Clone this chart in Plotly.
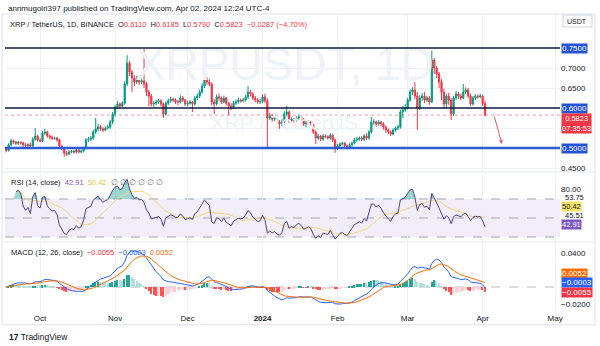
import numpy as np
import pandas as pd
import plotly.graph_objects as go

# ---------------- data ----------------
dates = pd.date_range("2023-09-17", "2024-04-02", freq="D")

opens = ([.497,.494,.508,.518,.515,.512,.514,.513,.508,.506,.508,.505,.522,.530]
 + [.520,.518,.537,.540,.530,.527,.524,.525,.520,.505,.498,.487,.485,.490,.492,.490,.495,.490,.492,.500,.520,.522,.525,.540,.548,.553,.548,.545,.550,.552,.565]
 + [.585,.602,.610,.605,.612,.660,.712,.690,.675,.665,.672,.665,.668,.660,.640,.630,.610,.612,.615,.618,.610,.585,.612,.618,.622,.620,.615,.615,.625,.620]
 + [.610,.612,.615,.610,.625,.630,.640,.655,.670,.665,.660,.615,.610,.628,.625,.615,.625,.612,.605,.600,.612,.615,.620,.618,.620,.628,.640,.635,.625,.620,.615]
 + [.616,.628,.618,.575,.580,.572,.575,.565,.560,.565,.585,.590,.568,.572,.568,.575,.578,.572,.560,.563,.565,.560,.540,.525,.530,.522,.530,.528,.525,.532,.520]
 + [.500,.505,.510,.512,.505,.502,.508,.512,.520,.522,.525,.522,.530,.525,.540,.565,.565,.560,.565,.560,.552,.545,.540,.535,.545,.550,.552,.590,.595]
 + [.600,.620,.640,.645,.630,.600,.625,.630,.620,.625,.615,.720,.700,.685,.665,.640,.610,.630,.620,.585,.625,.635,.630,.625,.640,.645,.630,.610,.625,.630,.628,.630,.611])

highs = ([.501,.512,.523,.521,.518,.518,.517,.516,.512,.512,.514,.527,.550,.533]
 + [.525,.542,.548,.543,.534,.531,.528,.528,.523,.508,.501,.492,.494,.495,.495,.500,.498,.496,.503,.525,.528,.530,.545,.575,.560,.558,.552,.554,.558,.570,.590]
 + [.608,.618,.614,.617,.668,.732,.718,.695,.682,.680,.676,.675,.748,.665,.645,.635,.618,.620,.623,.622,.614,.617,.623,.628,.626,.624,.620,.632,.630,.623]
 + [.618,.620,.618,.630,.636,.646,.662,.700,.678,.672,.664,.622,.634,.636,.629,.631,.628,.615,.612,.618,.621,.626,.624,.625,.633,.655,.646,.639,.630,.624,.622]
 + [.634,.636,.624,.588,.585,.580,.578,.570,.572,.592,.605,.594,.577,.575,.580,.584,.582,.575,.568,.569,.568,.563,.544,.535,.533,.535,.534,.532,.537,.536,.524]
 + [.510,.514,.516,.515,.509,.512,.516,.525,.528,.529,.530,.535,.537,.545,.578,.572,.569,.570,.568,.564,.556,.549,.544,.549,.554,.558,.596,.605,.610]
 + [.626,.646,.652,.665,.640,.632,.638,.640,.630,.630,.744,.725,.705,.690,.672,.648,.636,.638,.625,.630,.642,.640,.636,.660,.652,.650,.636,.630,.635,.634,.636,.633,.6185])

lows = ([.489,.491,.505,.510,.507,.508,.509,.503,.500,.502,.500,.502,.518,.516]
 + [.514,.515,.532,.526,.522,.520,.521,.516,.500,.494,.478,.480,.482,.487,.486,.487,.486,.487,.489,.497,.515,.518,.521,.535,.542,.543,.540,.542,.546,.548,.560]
 + [.578,.598,.598,.602,.608,.655,.680,.640,.655,.660,.658,.660,.650,.630,.605,.604,.603,.607,.610,.604,.575,.581,.607,.613,.615,.610,.606,.611,.615,.605]
 + [.604,.608,.590,.606,.620,.625,.636,.650,.658,.654,.606,.585,.606,.619,.610,.611,.607,.582,.595,.597,.608,.611,.613,.614,.616,.622,.629,.620,.614,.610,.610]
 + [.612,.612,.500,.570,.566,.567,.560,.548,.555,.558,.580,.562,.564,.563,.565,.570,.567,.555,.552,.559,.556,.535,.510,.520,.517,.518,.524,.521,.521,.515,.488]
 + [.495,.501,.506,.500,.497,.498,.503,.509,.516,.518,.518,.517,.519,.521,.536,.558,.553,.556,.555,.546,.538,.535,.530,.532,.541,.545,.548,.575,.590]
 + [.596,.615,.632,.622,.545,.595,.618,.612,.615,.608,.612,.685,.675,.650,.620,.600,.600,.608,.570,.580,.620,.622,.620,.622,.635,.625,.605,.606,.620,.623,.624,.605,.579])

closes = ([.494,.508,.518,.515,.512,.514,.513,.508,.506,.508,.505,.522,.530,.520]
 + [.518,.537,.540,.530,.527,.524,.525,.520,.505,.498,.487,.485,.490,.492,.490,.495,.490,.492,.500,.520,.522,.525,.540,.548,.553,.548,.545,.550,.552,.565,.585]
 + [.602,.610,.605,.612,.660,.712,.690,.675,.665,.672,.665,.668,.660,.640,.630,.610,.612,.615,.618,.610,.585,.612,.618,.622,.620,.615,.615,.625,.620,.610]
 + [.612,.615,.610,.625,.630,.640,.655,.670,.665,.660,.615,.610,.628,.625,.615,.625,.612,.605,.600,.612,.615,.620,.618,.620,.628,.640,.635,.625,.620,.615,.616]
 + [.628,.618,.575,.580,.572,.575,.565,.560,.565,.585,.590,.568,.572,.568,.575,.578,.572,.560,.563,.565,.560,.540,.525,.530,.522,.530,.528,.525,.532,.520,.500]
 + [.505,.510,.512,.505,.502,.508,.512,.520,.522,.525,.522,.530,.525,.540,.565,.565,.560,.565,.560,.552,.545,.540,.535,.545,.550,.552,.590,.595,.600]
 + [.620,.640,.645,.630,.600,.625,.630,.620,.625,.615,.720,.700,.685,.665,.640,.610,.630,.620,.585,.625,.635,.630,.625,.640,.645,.630,.610,.625,.630,.628,.630,.611,.5823])

levels_dark = [0.75, 0.60]
level_blue = 0.50
last_price = 0.5823
month_ticks = ["2023-10-01", "2023-11-01", "2023-12-01", "2024-01-01", "2024-02-01", "2024-03-01", "2024-04-01", "2024-05-01"]
month_labels = ["Oct", "Nov", "Dec", "<b>2024</b>", "Feb", "Mar", "Apr", "May"]
price_ticks = [0.45, 0.55, 0.65, 0.70]

# ---------------- indicators ----------------
c = pd.Series(closes, dtype=float)
delta = c.diff()
gain = delta.clip(lower=0)
loss = -delta.clip(upper=0)
ag = gain.ewm(alpha=1/14, adjust=True, min_periods=4).mean()
al = loss.ewm(alpha=1/14, adjust=True, min_periods=4).mean()
rsi = 100 - 100 / (1 + ag / al)
rsi_ma = rsi.rolling(14, min_periods=1).mean()
ema12 = c.ewm(span=12, adjust=False).mean()
ema26 = c.ewm(span=26, adjust=False).mean()
macd = ema12 - ema26
signal = macd.ewm(span=9, adjust=False).mean()
hist = macd - signal
hcol = []
for i, h in enumerate(hist):
    p = hist.iloc[i-1] if i > 0 else h
    if h >= 0:
        hcol.append('#26A69A' if h >= p else '#B2DFDB')
    else:
        hcol.append('#FF5252' if h < p else '#FFCDD2')

# ---------------- figure ----------------
fig = go.Figure()
wm_x = pd.Timestamp("2024-01-10")
fig.add_trace(go.Scatter(x=[wm_x, wm_x], y=[0.700, 0.5575], mode="text",
                         text=["XRPUSDT, 1D", "XRP / TetherUS"],
                         textfont=dict(size=[46, 21], color="#eff2f8", family="Liberation Sans"),
                         xaxis="x", yaxis="y", hoverinfo="skip"))
fig.add_trace(go.Candlestick(x=dates, open=opens, high=highs, low=lows, close=closes,
                             increasing=dict(line=dict(color="#089981", width=1), fillcolor="#089981"),
                             decreasing=dict(line=dict(color="#F23645", width=1), fillcolor="#F23645"),
                             whiskerwidth=0, xaxis="x", yaxis="y"))

# RSI
fig.add_trace(go.Scatter(x=dates, y=[70]*len(dates), mode="lines", line=dict(width=0),
                         xaxis="x2", yaxis="y2", hoverinfo="skip"))
fig.add_trace(go.Scatter(x=dates, y=np.maximum(rsi.fillna(0), 70), mode="lines", line=dict(width=0),
                         fill="tonexty", fillcolor="rgba(38,166,154,0.45)",
                         xaxis="x2", yaxis="y2", hoverinfo="skip"))
fig.add_trace(go.Scatter(x=dates, y=rsi_ma, mode="lines", line=dict(color="#F5D67A", width=1),
                         xaxis="x2", yaxis="y2"))
fig.add_trace(go.Scatter(x=dates, y=rsi, mode="lines", line=dict(color="#4F427F", width=1),
                         xaxis="x2", yaxis="y2"))

# MACD
fig.add_trace(go.Bar(x=dates, y=hist, marker=dict(color=hcol, line=dict(width=0)),
                     width=86400000*0.6, xaxis="x3", yaxis="y3"))
fig.add_trace(go.Scatter(x=dates, y=macd, mode="lines", line=dict(color="#2962FF", width=1),
                         xaxis="x3", yaxis="y3"))
fig.add_trace(go.Scatter(x=dates, y=signal, mode="lines", line=dict(color="#FF6D00", width=1),
                         xaxis="x3", yaxis="y3"))

xr = ["2023-09-16 12:00", "2024-05-03 00:00"]
gridc = "#eef1f6"
xcommon = dict(range=xr, tickvals=month_ticks, showgrid=True, gridcolor=gridc, gridwidth=1,
               zeroline=False, showline=False, ticks="")
FONT = "Liberation Sans, Arial, sans-serif"
fig.update_layout(
    width=600, height=346, margin=dict(l=5, r=40, t=14, b=34),
    paper_bgcolor="white", plot_bgcolor="white", showlegend=False, hovermode=False,
    font=dict(family=FONT, size=8, color="#131722"), bargap=0,
    xaxis=dict(domain=[0, 1], anchor="y", showticklabels=False, rangeslider=dict(visible=False), **xcommon),
    xaxis2=dict(domain=[0, 1], anchor="y2", matches="x", showticklabels=False, **xcommon),
    xaxis3=dict(domain=[0, 1], anchor="y3", matches="x", showticklabels=True, ticktext=month_labels,
                tickfont=dict(size=8, color="#131722"), **xcommon),
    yaxis=dict(domain=[0.4698, 1], side="right", range=[0.44, 0.835], tickvals=price_ticks,
               ticktext=[f"{v:.4f}" for v in price_ticks], showgrid=True, gridcolor=gridc,
               zeroline=False, ticks="", tickfont=dict(size=8, color="#131722")),
    yaxis2=dict(domain=[0.2383, 0.4631], side="right", range=[25.8, 96.3], tickvals=[80],
                ticktext=["80.00"], showgrid=False, zeroline=False, ticks="",
                tickfont=dict(size=8, color="#131722")),
    yaxis3=dict(domain=[0, 0.2315], side="right", range=[-0.0294, 0.0518], tickvals=[0.04, -0.02],
                ticktext=["0.0400", "\u22120.0200"], showgrid=False, zeroline=False, ticks="",
                tickfont=dict(size=8, color="#131722")),
)

shapes = []
# frame and pane separators
shapes.append(dict(type="rect", xref="paper", yref="paper", x0=-0.0054, x1=1.063, y0=-0.043, y1=1.0,
                   line=dict(color="#dfe2ea", width=1), fillcolor="rgba(0,0,0,0)", layer="below"))
for py in [0.4698, 0.2349]:
    shapes.append(dict(type="line", xref="paper", yref="paper", x0=-0.0054, x1=1.063, y0=py, y1=py,
                       line=dict(color="#e6e9f0", width=1), layer="below"))
# RSI band + levels
shapes.append(dict(type="rect", xref="paper", yref="y2", x0=0, x1=1, y0=30, y1=70,
                   fillcolor="rgba(126,87,194,0.10)", line=dict(width=0), layer="below"))
for lv in [70, 50, 30]:
    shapes.append(dict(type="line", xref="paper", yref="y2", x0=0, x1=1, y0=lv, y1=lv,
                       line=dict(color="#a3a6af", width=1, dash="dash"), layer="below"))
# MACD zero
shapes.append(dict(type="line", xref="paper", yref="y3", x0=0, x1=1, y0=0, y1=0,
                   line=dict(color="#b8bbc3", width=1, dash="dash"), layer="below"))
# price lines
shapes.append(dict(type="line", xref="paper", yref="y", x0=0, x1=1, y0=last_price, y1=last_price,
                   line=dict(color="#f39aa2", width=1, dash="dot"), layer="below"))
for lv in levels_dark:
    shapes.append(dict(type="line", xref="paper", yref="y", x0=0, x1=1, y0=lv, y1=lv,
                       line=dict(color="#0f1b3d", width=1.5)))
shapes.append(dict(type="line", xref="paper", yref="y", x0=0, x1=1, y0=level_blue, y1=level_blue,
                   line=dict(color="#2d5bd6", width=2.5)))
# USDT button
shapes.append(dict(type="rect", xref="paper", yref="paper", x0=1.0054, x1=1.0577, y0=0.9564, y1=0.9966,
                   line=dict(color="#d1d4dc", width=1), fillcolor="white"))
fig.update_layout(shapes=shapes)

ann = []
def box(text, yref, y, bg, fc="white", yanchor="middle", yshift=0, size=8):
    ann.append(dict(text=text, xref="paper", x=1.0, xanchor="left", xshift=1, yref=yref, y=y,
                    yanchor=yanchor, yshift=yshift, showarrow=False, bgcolor=bg, borderpad=0,
                    font=dict(size=size, color=fc, family=FONT), align="center"))

for lv in levels_dark + [level_blue]:
    box(f"{lv:.4f}", "y", lv, "#2454d6")
box(f"{last_price:.4f}<br>07:35:53", "y", last_price, "#F23645", yanchor="top", yshift=2, size=7.5)
# RSI labels
ann.append(dict(text="53.75", xref="paper", x=1.0, xanchor="left", xshift=3, yref="y2", y=71.5,
                showarrow=False, font=dict(size=7.5, color="#131722")))
ann.append(dict(text="45.51", xref="paper", x=1.0, xanchor="left", xshift=3, yref="y2", y=52.6,
                showarrow=False, font=dict(size=7.5, color="#131722")))
box("50.42", "y2", 62.3, "#F7E26B", fc="#131722", size=7.5)
box("42.91", "y2", 43.4, "#7E57C2", size=7.5)
# MACD labels
box("0.0052", "y3", 0.0165, "#FF6D00")
box("\u22120.0003", "y3", 0.0059, "#2962FF")
box("\u22120.0055", "y3", -0.0059, "#F23645")

# headers
ann.append(dict(text="annmugolri397 published on TradingView.com, Apr 02, 2024 12:24 UTC-4",
                xref="paper", yref="paper", x=0.002, y=1.0201, xanchor="left", yanchor="middle",
                showarrow=False, font=dict(size=8, color="#131722")))
red = "#F23645"
ann.append(dict(text=("XRP / TetherUS, 1D, BINANCE  O<span style='color:%s'>0.6110</span>  "
                      "H<span style='color:%s'>0.6185</span>  L<span style='color:%s'>0.5790</span>  "
                      "C<span style='color:%s'>0.5823</span>  <span style='color:%s'>\u22120.0287 (\u22124.70%%)</span>")
                     % (red, red, red, red, red),
                xref="paper", yref="paper", x=0.0054, y=0.9664, xanchor="left", yanchor="middle",
                showarrow=False, font=dict(size=7.5, color="#131722")))
ann.append(dict(text="USDT", xref="paper", yref="paper", x=1.0315, y=0.9765, xanchor="center", yanchor="middle",
                showarrow=False, font=dict(size=7, color="#131722")))
ann.append(dict(text=("RSI (14, close)  <span style='color:#7E57C2'>42.91</span>  "
                      "<span style='color:#E8C547'>50.42</span>  "
                      "<span style='color:#787b86'>\u2205 \u2205 \u2205 \u2205 \u2205 \u2205</span>"),
                xref="paper", yref="paper", x=0.0072, y=0.4329, xanchor="left", yanchor="middle",
                showarrow=False, font=dict(size=7.5, color="#131722")))
ann.append(dict(text=("MACD (12, 26, close)  <span style='color:#F23645'>\u22120.0055</span>  "
                      "<span style='color:#2962FF'>\u22120.0003</span>  "
                      "<span style='color:#FF6D00'>0.0052</span>"),
                xref="paper", yref="paper", x=0.0072, y=0.2013, xanchor="left", yanchor="middle",
                showarrow=False, font=dict(size=7.5, color="#131722")))
ann.append(dict(text="<b>17</b> TradingView", xref="paper", yref="paper", x=0.0036, y=-0.0839,
                xanchor="left", yanchor="middle", showarrow=False, font=dict(size=8.5, color="#131722")))
# projection arrow
ann.append(dict(x="2024-04-09", y=0.51, xref="x", yref="y", ax=-8, ay=-29, axref="pixel", ayref="pixel",
                showarrow=True, arrowhead=2, arrowsize=0.8, arrowwidth=1, arrowcolor="#e25c5c", text=""))
fig.update_layout(annotations=ann)

fig.write_html("out.html")
